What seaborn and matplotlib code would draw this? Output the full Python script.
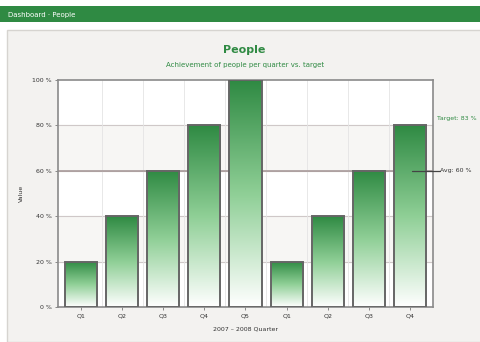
import numpy as np
import pandas as pd
import matplotlib
matplotlib.use("Agg")
import matplotlib.pyplot as plt
from matplotlib.colors import LinearSegmentedColormap
from matplotlib.patches import Rectangle
import seaborn as sns

# ---- data ----
categories = ["c1", "c2", "c3", "c4", "c5", "c6", "c7", "c8", "c9"]
tick_labels = ["Q1", "Q2", "Q3", "Q4", "Q5", "Q1", "Q2", "Q3", "Q4"]
values = [20, 40, 60, 80, 100, 20, 40, 60, 80]
yticks = [0, 20, 40, 60, 80, 100]
ytick_labels = ["0 %", "20 %", "40 %", "60 %", "80 %", "100 %"]
average = 60
header_text = "Dashboard · People"
title = "People"
subtitle = "Achievement of people per quarter vs. target"
xlabel = "2007 – 2008 Quarter"
ylabel = "Value"
legend_target = "Target: 83 %"
legend_avg = "Avg: 60 %"

GREEN = "#2f8a43"

sns.set_theme(style="white")
plt.rcParams["font.family"] = ["DejaVu Sans"]

fig = plt.figure(figsize=(4.81, 3.42), dpi=100)
fig.patch.set_facecolor("#ffffff")

# header bar and panel
fig.patches.append(Rectangle((0, 1 - 22 / 342), 1, 16 / 342, transform=fig.transFigure,
                             facecolor=GREEN, edgecolor="none", zorder=-10))
fig.text(8 / 481, 1 - 14.5 / 342, header_text, color="white", fontsize=5, va="center", ha="left")
fig.patches.append(Rectangle((7 / 481, 0.0), 1, 1 - 30 / 342 - 0.0, transform=fig.transFigure,
                             facecolor="#f3f2f0", edgecolor="#d6d4d0", lw=1.0, zorder=-10))

fig.text(244 / 481, 1 - 50 / 342, title, color=GREEN, fontsize=8, fontweight="bold", ha="center", va="center")
fig.text(245 / 481, 1 - 65 / 342, subtitle, color=GREEN, fontsize=5, ha="center", va="center")

ax = fig.add_axes([58 / 481, 1 - 307 / 342, (433 - 58) / 481, (307 - 80) / 342])
ax.set_zorder(1)
ax.set_facecolor("white")

df = pd.DataFrame({"cat": categories, "val": values})
sns.barplot(data=df, x="cat", y="val", order=categories, ax=ax, width=0.78,
            color=GREEN, edgecolor="#666666", linewidth=1.4, zorder=3)

cmap = LinearSegmentedColormap.from_list("g", ["#ffffff", "#8fcf96", GREEN])
grad = np.linspace(0, 1, 256).reshape(-1, 1)
for p in list(ax.patches):
    x0, y0 = p.get_x(), p.get_y()
    w, h = p.get_width(), p.get_height()
    im = ax.imshow(grad, extent=[x0, x0 + w, y0, y0 + h], aspect="auto", cmap=cmap,
                   origin="lower", zorder=2.9, interpolation="bilinear")
    im.set_clip_path(p)
    p.set_facecolor("none")

ax.set_xlim(-0.56, len(categories) - 0.44)
ax.set_ylim(0, 100)

# alternating bands + grid
for i in range(len(yticks) - 1):
    if i % 2 == 1:
        ax.axhspan(yticks[i], yticks[i + 1], color="#f7f6f4", zorder=0)
for y in yticks[1:-1]:
    ax.axhline(y, color="#cfc8c8", lw=0.8, zorder=1)
ax.axhline(average, color="#a89a9a", lw=1.2, zorder=1.5)
for i in range(len(categories) - 1):
    ax.axvline(i + 0.5, color="#e4e4e4", lw=0.6, zorder=1)

ax.plot([8.05, 8.72], [average, average], color="#444444", lw=0.9, clip_on=False, zorder=4)
ax.text(8.65, 83, legend_target, color=GREEN, fontsize=4.5, va="center", ha="left",
        transform=ax.transData, clip_on=False)
ax.text(8.72, average, legend_avg, color="#333333", fontsize=4.5, va="center", ha="left",
        transform=ax.transData, clip_on=False)

ax.set_yticks(yticks)
ax.set_yticklabels(ytick_labels, fontsize=4.5, color="#333333")
ax.set_xticks(range(len(categories)))
ax.set_xticklabels(tick_labels, fontsize=4.5, color="#333333")
ax.tick_params(axis="both", length=2.5, width=0.6, color="#777777", pad=2)
ax.tick_params(axis="y", left=True)
ax.tick_params(axis="x", bottom=True)
ax.set_xlabel(xlabel, fontsize=4.5, color="#333333", labelpad=6)
ax.set_ylabel(ylabel, fontsize=4.5, color="#333333", labelpad=6)
for s in ax.spines.values():
    s.set_color("#8a8a8a")
    s.set_linewidth(1.2)
    s.set_visible(True)

fig.savefig("out.png", dpi=100)
